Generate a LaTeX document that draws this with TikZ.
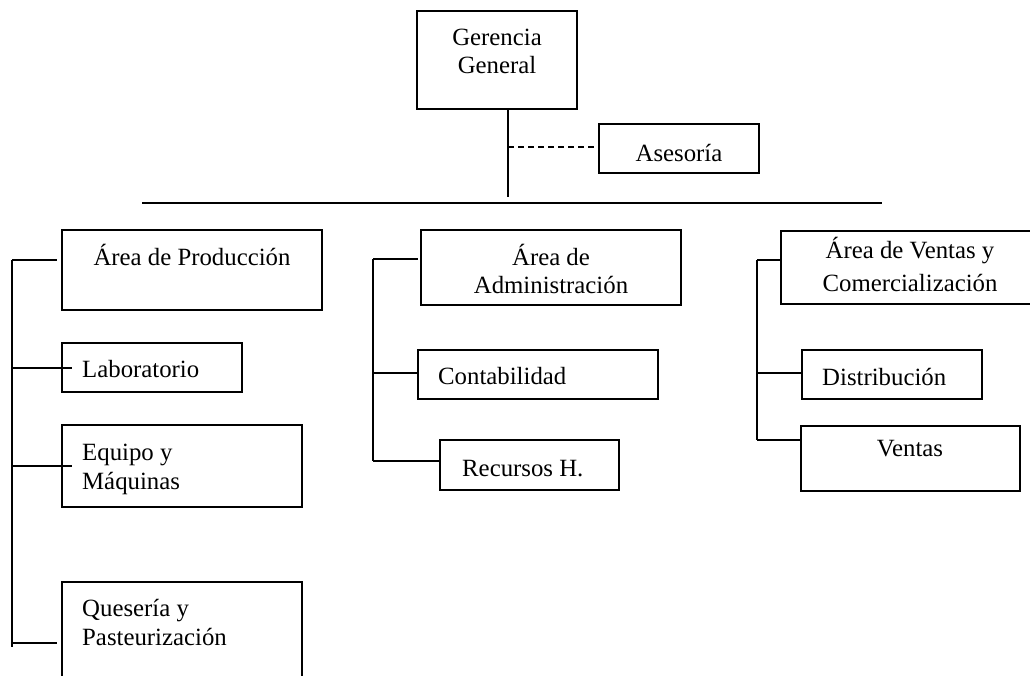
\documentclass[tikz,border=0pt]{standalone}
\usepackage{fontspec}
\setmainfont{Liberation Serif}
\begin{document}
\begin{tikzpicture}[x=1pt,y=-1pt,
  box/.style={draw, line width=1.9pt, inner sep=0pt, minimum width=#1},
  ln/.style={line width=1.9pt},
  dsh/.style={line width=1.9pt, dash pattern=on 6pt off 4pt},
  lbl/.style={font=\fontsize{24.8}{28}\selectfont, inner sep=0pt},
]
\useasboundingbox (0,0) rectangle (1030,675);
\clip (0,0) rectangle (1030,675);
\fill[white] (0,0) rectangle (1030,675);

% boxes
\node[box=160pt, minimum height=98pt]  (ger) at (497,60) {};
\node[box=160pt, minimum height=49pt]  (ase) at (679,148.5) {};
\node[box=260pt, minimum height=80pt]  (prod) at (192,270) {};
\node[box=180pt, minimum height=49pt]  (lab) at (152,367.5) {};
\node[box=240pt, minimum height=82pt]  (equ) at (182,466) {};
\node[box=240pt, minimum height=138pt] (que) at (182,651) {};
\node[box=260pt, minimum height=75pt]  (adm) at (551,267.5) {};
\node[box=240pt, minimum height=49pt]  (con) at (538,374.5) {};
\node[box=179pt, minimum height=50pt]  (rec) at (529.5,465) {};
\node[box=259pt, minimum height=73pt]  (ven) at (910.5,267.5) {};
\node[box=180pt, minimum height=49pt]  (dis) at (892,374.5) {};
\node[box=219pt, minimum height=65pt]  (vts) at (910.5,458.5) {};

% texts
\node[lbl, anchor=base] (t1) at (497,45) {Gerencia};
\node[lbl, anchor=base] (t2) at (497,73) {General};
\node[lbl, anchor=base] (t3) at (679,161) {Asesoría};
\node[lbl, anchor=base] (t4) at (192,265) {Área de Producción};
\node[lbl, anchor=base west] (t5) at (82,377) {Laboratorio};
\node[lbl, anchor=base west] (t6) at (82,460) {Equipo y};
\node[lbl, anchor=base west] (t7) at (82,489) {Máquinas};
\node[lbl, anchor=base west] (t8) at (82,616) {Quesería y};
\node[lbl, anchor=base west] (t9) at (82,645) {Pasteurización};
\node[lbl, anchor=base] (t10) at (551,265) {Área de};
\node[lbl, anchor=base] (t11) at (551,293) {Administración};
\node[lbl, anchor=base west] (t12) at (438,384) {Contabilidad};
\node[lbl, anchor=base west] (t13) at (462,476) {Recursos H.};
\node[lbl, anchor=base] (t14) at (910,258) {Área de Ventas y};
\node[lbl, anchor=base] (t15) at (910,291) {Comercialización};
\node[lbl, anchor=base west] (t16) at (822,385) {Distribución};
\node[lbl, anchor=base] (t17) at (910,456) {Ventas};

% coordinates
\coordinate (g1) at (508,109);
\coordinate (g2) at (508,197);
\coordinate (d1) at (508,147);
\coordinate (d2) at (595,147);
\coordinate (h1) at (142,203);
\coordinate (h2) at (882,203);
\coordinate (lt) at (12,260);
\coordinate (lb) at (12,647);
\coordinate (l1) at (57,260);
\coordinate (l2a) at (12,368);
\coordinate (l2) at (72,368);
\coordinate (l3a) at (12,466);
\coordinate (l3) at (72,466);
\coordinate (l4a) at (12,643);
\coordinate (l4) at (57,643);
\coordinate (mt) at (373,259);
\coordinate (mb) at (373,461);
\coordinate (m1) at (418,259);
\coordinate (m2) at (373,373);
\coordinate (rt) at (757,260);
\coordinate (rb) at (757,440);
\coordinate (r2) at (757,373);

% connectors
\draw[ln] (g1) -- (g2);
\draw[dsh] (d1) -- (d2);
\draw[ln] (h1) -- (h2);
\draw[ln] (lt) -- (lb);
\draw[ln] (lt) -- (l1);
\draw[ln] (l2a) -- (l2);
\draw[ln] (l3a) -- (l3);
\draw[ln] (l4a) -- (l4);
\draw[ln] (mt) -- (mb);
\draw[ln] (mt) -- (m1);
\draw[ln] (m2) -- (m2 -| con.west);
\draw[ln] (mb) -- (mb -| rec.west);
\draw[ln] (rt) -- (rb);
\draw[ln] (rt) -- (rt -| ven.west);
\draw[ln] (r2) -- (r2 -| dis.west);
\draw[ln] (rb) -- (rb -| vts.west);
\end{tikzpicture}
\end{document}
